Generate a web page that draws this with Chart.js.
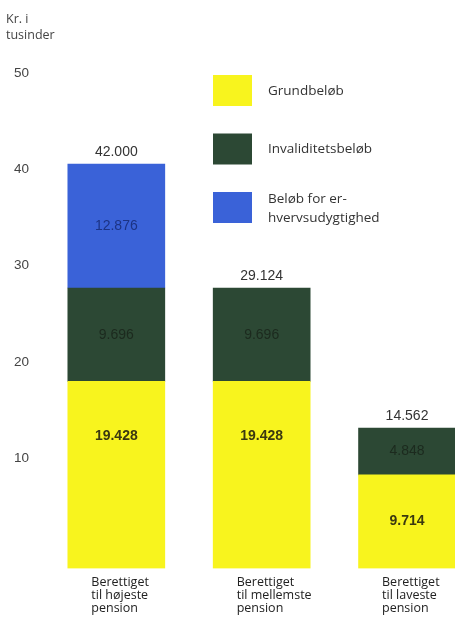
<!DOCTYPE html>
<html>
<head>
<meta charset="utf-8">
<script src="https://cdn.jsdelivr.net/npm/chart.js@4"></script>
<style>
  html, body { margin: 0; padding: 0; background: #fff; }
  #wrap { width: 455px; height: 623px; position: relative; }
</style>
</head>
<body>
<div id="wrap"><canvas id="pensionChart"></canvas></div>
<script>
// Data (kr.)
const categories = [
    ['Berettiget', 'til højeste', 'pension'],
    ['Berettiget', 'til mellemste', 'pension'],
    ['Berettiget', 'til laveste', 'pension']
];
const grundbelob = [19428, 19428, 9714];
const invaliditetsbelob = [9696, 9696, 4848];
const erhvervsudygtighed = [12876, null, null];
const totals = [42000, 29124, 14562];
const seriesNames = ['Grundbeløb', 'Invaliditetsbeløb', 'Beløb for erhvervsudygtighed'];
const legendText = [['Grundbeløb'], ['Invaliditetsbeløb'], ['Beløb for er-', 'hvervsudygtighed']];
const yTicks = [10000, 20000, 30000, 40000, 50000];

const colors = ['#f8f41e', '#2c4834', '#3a62d8'];
const valueColors = ['#3a3810', '#1c2a1e', '#1c3384'];

function fmt(v) {
    return String(v).replace(/\B(?=(\d{3})+(?!\d))/g, '.');
}

function toPoints(arr) {
    return arr.map((v, i) => ({ x: i, y: v }));
}

const valueLabels = {
    id: 'valueLabels',
    afterDatasetsDraw(chart) {
        const ctx = chart.ctx;
        ctx.save();
        ctx.textAlign = 'center';
        ctx.textBaseline = 'middle';
        chart.data.datasets.forEach((ds, di) => {
            const meta = chart.getDatasetMeta(di);
            meta.data.forEach((bar, i) => {
                const v = ds.data[i].y;
                if (!v) return;
                const top = Math.min(bar.y, bar.base);
                const bottom = Math.max(bar.y, bar.base);
                let y = (top + bottom) / 2;
                if (di === 0 && bottom - top > 150) y = top + 55;
                ctx.font = (di === 0 ? 'bold ' : '') + '14px "Liberation Sans", Arial, sans-serif';
                ctx.fillStyle = valueColors[di];
                ctx.fillText(fmt(v), bar.x, y);
            });
        });
        // totals above each bar
        const yScale = chart.scales.y;
        const base = chart.getDatasetMeta(0);
        ctx.font = '14px "Liberation Sans", Arial, sans-serif';
        ctx.fillStyle = '#333';
        totals.forEach((t, i) => {
            ctx.fillText(fmt(t), base.data[i].x, yScale.getPixelForValue(t) - 12);
        });
        ctx.restore();
    }
};

const sideLegend = {
    id: 'sideLegend',
    afterDraw(chart) {
        const ctx = chart.ctx;
        const area = chart.chartArea;
        const x0 = area.left + 165;
        const y0 = area.top - 12;
        ctx.save();
        ctx.font = '13.5px "Open Sans", "Noto Sans", sans-serif';
        ctx.textAlign = 'left';
        ctx.textBaseline = 'middle';
        chart.data.datasets.forEach((ds, i) => {
            const top = y0 + i * 58.5;
            ctx.fillStyle = ds.backgroundColor;
            ctx.fillRect(x0, top, 39, 31);
            ctx.fillStyle = '#333';
            const lines = legendText[i];
            lines.forEach((line, j) => {
                const cy = lines.length === 1 ? top + 16 : top + 7 + j * 19;
                ctx.fillText(line, x0 + 55, cy);
            });
        });
        ctx.restore();
    }
};

const ctx = document.getElementById('pensionChart').getContext('2d');
new Chart(ctx, {
    type: 'bar',
    data: {
        datasets: [
            { label: seriesNames[0], data: toPoints(grundbelob), backgroundColor: colors[0] },
            { label: seriesNames[1], data: toPoints(invaliditetsbelob), backgroundColor: colors[1] },
            { label: seriesNames[2], data: toPoints(erhvervsudygtighed), backgroundColor: colors[2] }
        ]
    },
    options: {
        responsive: true,
        maintainAspectRatio: false,
        animation: false,
        barThickness: 97,
        layout: { padding: { left: 6, right: 0, top: 0, bottom: 0 } },
        plugins: {
            legend: { display: false },
            tooltip: { enabled: false },
            title: {
                display: true,
                text: ['Kr. i', 'tusinder'],
                align: 'start',
                color: '#444',
                font: { family: '"Open Sans", "Noto Sans", sans-serif', size: 12.5, weight: 'normal', lineHeight: 1.28 },
                padding: { top: 11, bottom: 44 }
            }
        },
        scales: {
            x: {
                type: 'linear',
                stacked: true,
                offset: false,
                min: -0.47,
                max: 2.33,
                grid: { display: false, drawTicks: false },
                border: { display: false },
                afterBuildTicks(scale) {
                    scale.ticks = categories.map((_, i) => ({ value: i }));
                },
                afterFit(scale) {
                    scale.paddingLeft = 0;
                    scale.paddingRight = 0;
                },
                ticks: {
                    align: 'start',
                    labelOffset: -25,
                    padding: 8,
                    color: '#222',
                    font: { family: '"Open Sans", "Noto Sans", sans-serif', size: 12.5, lineHeight: 1.03 },
                    callback: (v) => categories[v]
                }
            },
            y: {
                stacked: true,
                min: 0,
                max: 50000,
                grid: { display: false, drawTicks: false },
                border: { display: false },
                afterBuildTicks(scale) {
                    scale.ticks = yTicks.map(v => ({ value: v }));
                },
                afterFit(scale) { scale.width = 42; },
                ticks: {
                    padding: 19,
                    labelOffset: -14,
                    color: '#444',
                    font: { family: '"Liberation Sans", Arial, sans-serif', size: 13.5 },
                    callback: (v) => v / 1000
                }
            }
        }
    },
    plugins: [valueLabels, sideLegend]
});
</script>
</body>
</html>
